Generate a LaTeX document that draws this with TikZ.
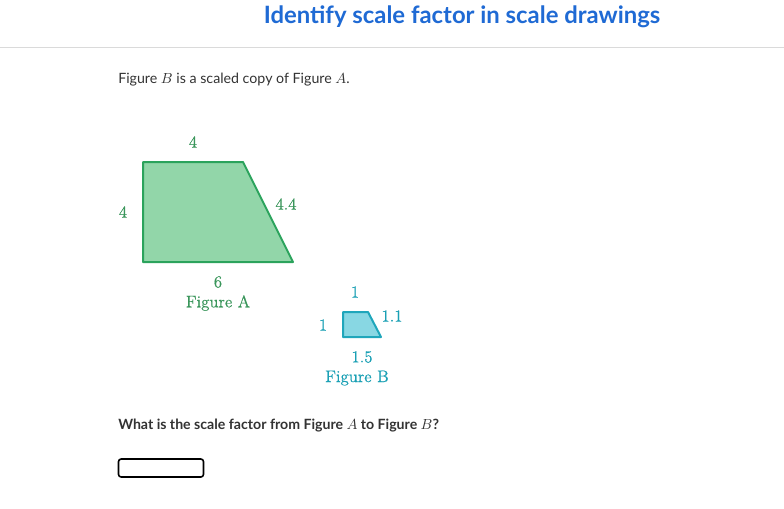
\documentclass[tikz,border=0pt]{standalone}
\usepackage{fontspec}
\setmainfont{Lato}
\newfontfamily\serifnum[FakeBold=0.6]{Latin Modern Roman}
\definecolor{titleblue}{HTML}{1F6AD4}
\definecolor{rulegray}{HTML}{DADADA}
\definecolor{bodygray}{HTML}{333333}
\definecolor{grstroke}{HTML}{2BA35C}
\definecolor{grfill}{HTML}{92D6A9}
\definecolor{grtext}{HTML}{3A965B}
\definecolor{tlstroke}{HTML}{1FA6BB}
\definecolor{tlfill}{HTML}{88D7E3}
\definecolor{tltext}{HTML}{1AA0B5}
\begin{document}
\begin{tikzpicture}[x=0.75pt,y=-0.75pt,
  glabel/.style={text=grtext,font=\serifnum\fontsize{12.6}{14}\selectfont,inner sep=0pt},
  tlabel/.style={text=tltext,font=\serifnum\fontsize{12.6}{14}\selectfont,inner sep=0pt},
  body/.style={text=bodygray,font=\fontsize{10.65}{12}\selectfont,inner sep=0pt,anchor=west}]
\useasboundingbox[fill=white] (0,0) rectangle (784,508);
% title
\node[text=titleblue,font=\bfseries\fontsize{17.9}{21}\selectfont,inner sep=0pt] (title) at (462,17) {Identify scale factor in scale drawings};
\draw[rulegray,line width=0.75pt] (0,47) -- (784,47);
% intro
\node[body] (intro) at (118,80) {Figure $B$ is a scaled copy of Figure $A$.};
% Figure A
\coordinate (a1) at (143,162);
\coordinate (a2) at (243,162);
\coordinate (a3) at (293,262);
\coordinate (a4) at (143,262);
\draw[grstroke,fill=grfill,line width=1.5pt,line join=round] (a1) -- (a2) -- (a3) -- (a4) -- cycle;
\node[glabel] (at) at (193,142) {4};
\node[glabel] (al) at (123,212) {4};
\node[glabel] (ar) at (286,204) {4.4};
\node[glabel] (ab) at (218,282) {6};
\node[glabel] (aname) at (218,303) {Figure A};
% Figure B
\coordinate (b1) at (343,312);
\coordinate (b2) at (368,312);
\coordinate (b3) at (381,337);
\coordinate (b4) at (343,337);
\draw[tlstroke,fill=tlfill,line width=1.5pt,line join=round] (b1) -- (b2) -- (b3) -- (b4) -- cycle;
\node[tlabel] (bt) at (355,292) {1};
\node[tlabel] (bl) at (323,325) {1};
\node[tlabel] (br) at (392,316) {1.1};
\node[tlabel] (bb) at (362,357) {1.5};
\node[tlabel] (bname) at (357,378) {Figure B};
% question
\node[body,font=\bfseries\fontsize{10.6}{12}\selectfont] (q) at (118,426) {What is the scale factor from Figure $A$ to Figure $B$?};
\draw[black,line width=1.2pt,rounded corners=2pt] (118.5,459) rectangle (203.5,477);
\end{tikzpicture}
\end{document}
